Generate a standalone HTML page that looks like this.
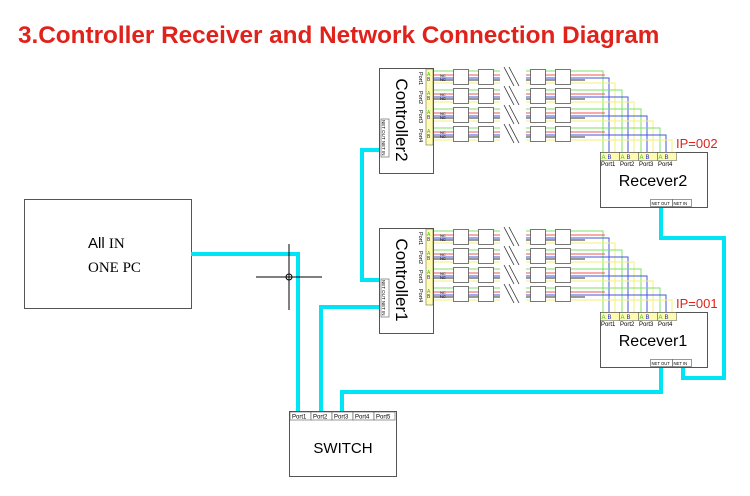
<!DOCTYPE html>
<html><head><meta charset="utf-8"><style>
html,body{margin:0;padding:0;background:#fff;}
svg{display:block;font-family:"Liberation Sans",sans-serif;}
</style></head><body>
<svg id="s" width="750" height="496" viewBox="0 0 750 496" xmlns="http://www.w3.org/2000/svg">
<text x="18" y="43" font-size="24.3" font-weight="bold" fill="#e0221b">3.Controller Receiver and Network Connection Diagram</text>
<rect x="24.5" y="199.5" width="167" height="109" fill="#fff" stroke="#555"/>
<text x="88" y="248" font-size="15" font-family="Liberation Sans">All <tspan font-family="Liberation Serif">IN</tspan></text>
<text x="88" y="272" font-size="15" font-family="Liberation Serif">ONE PC</text>
<g stroke="#00e5f5" stroke-width="4" fill="none">
<polyline points="191,254 298,254 298,412"/>
<polyline points="321,412 321,307 383,307"/>
<polyline points="342,412 342,392 661,392 661,365"/>
<polyline points="683,365 683,378 724,378 724,238 661,238 661,207"/>
<polyline points="383,150 362,150 362,280 383,280"/>
</g>
<g stroke="#000" stroke-width="1"><line x1="256" y1="277" x2="322" y2="277"/><line x1="289" y1="244" x2="289" y2="310"/></g>
<circle cx="289" cy="277" r="3" fill="none" stroke="#000"/>
<g id="dyn"></g>
<rect x="289.5" y="411.5" width="107" height="65" fill="#fff" stroke="#555"/>
<g font-size="6" fill="#000">
<rect x="290" y="412" width="21" height="8" fill="#fff" stroke="#555" stroke-width=".6"/><text x="292" y="418.5">Port1</text>
<rect x="311" y="412" width="21" height="8" fill="#fff" stroke="#555" stroke-width=".6"/><text x="313" y="418.5">Port2</text>
<rect x="332" y="412" width="21" height="8" fill="#fff" stroke="#555" stroke-width=".6"/><text x="334" y="418.5">Port3</text>
<rect x="353" y="412" width="21" height="8" fill="#fff" stroke="#555" stroke-width=".6"/><text x="355" y="418.5">Port4</text>
<rect x="374" y="412" width="21" height="8" fill="#fff" stroke="#555" stroke-width=".6"/><text x="376" y="418.5">Port5</text>
</g>
<text x="343" y="453" font-size="15" text-anchor="middle">SWITCH</text>
</svg>
<script>
var g=document.getElementById('dyn'),h='';
function L(x1,y1,x2,y2,c,w){h+='<line x1="'+x1+'" y1="'+y1+'" x2="'+x2+'" y2="'+y2+'" stroke="'+c+'" stroke-width="'+(w||1)+'"/>';}
function P(pts,c){h+='<polyline points="'+pts+'" fill="none" stroke="'+c+'" stroke-width="1"/>';}
function T(x,y,t,s,extra){h+='<text x="'+x+'" y="'+y+'" font-size="'+s+'" '+(extra||'')+'>'+t+'</text>';}
function unit(cy,ry,name,ip){
 h+='<rect x="379.5" y="'+(cy+0.5)+'" width="54" height="105" fill="#fff" stroke="#555"/>';
 h+='<text transform="translate(396,'+(cy+52)+') rotate(90)" font-size="17" text-anchor="middle">'+name+'</text>';
 h+='<rect x="381" y="'+(cy+51)+'" width="8" height="38" fill="#fff" stroke="#555" stroke-width=".6"/>';
 h+='<text transform="translate(382,'+(cy+52)+') rotate(90)" font-size="4.5">NET OUT NET IN</text>';
 h+='<rect x="426" y="'+(cy+1)+'" width="7" height="76" fill="#fffbb0" stroke="#555" stroke-width=".5"/>';
 for(var i=0;i<4;i++){
  var y=cy+3+i*19;
  h+='<text transform="translate(419,'+(y+1)+') rotate(90)" font-size="5.5">Port'+(i+1)+'</text>';
  T(427,y+5,'A',5,'fill="#2c2"');T(427,y+10,'B',5,'fill="#22c"');
  var px=603+i*19;
  var ex=[px,px+6,px+12];
  var ys=[y,y+4,y+7,y+9,y+12],cs=['#7ddf6a','#e55','#4455dd','#333','#f3ef7a'];
  for(var k=0;k<5;k++){L(434,ys[k],500,ys[k],cs[k]);}
  var gx=ex[0], bx=ex[1], yx=ex[2];
  P('526,'+ys[0]+' '+(gx)+','+ys[0]+' '+gx+','+(ry),cs[0]);
  L(526,ys[1],605,ys[1],cs[1]);L(526,ys[3],585,ys[3],cs[3]);
  P('526,'+ys[2]+' '+bx+','+ys[2]+' '+bx+','+ry,cs[2]);
  P('526,'+ys[4]+' '+yx+','+ys[4]+' '+yx+','+ry,cs[4]);
  T(440,y+6,'NC',4);T(440,y+10,'NC',4);
  var mods=[453,478,530,555];
  for(var m=0;m<4;m++)h+='<rect x="'+(mods[m]+.5)+'" y="'+(y-1.5)+'" width="15" height="15" fill="#fff" stroke="#555" stroke-width=".8"/>';
  L(504,y-4,514,y+15,'#333',.8);L(509,y-4,519,y+15,'#333',.8);
 }
 h+='<rect x="600.5" y="'+(ry+0.5)+'" width="107" height="'+55+'" fill="#fff" stroke="#555"/>';
 for(var i=0;i<4;i++){
  var px=600+i*19;
  h+='<rect x="'+(px+.5)+'" y="'+(ry+.5)+'" width="19" height="8" fill="#fffbb0" stroke="#555" stroke-width=".5"/>';
  T(px+1.5,ry+7,'A',6,'fill="#2c2"');T(px+7.5,ry+7,'B',6,'fill="#22c"');
  T(px+1,ry+14,'Port'+(i+1),6);
 }
 h+='<text x="653" y="'+(ry+34)+'" font-size="16" text-anchor="middle">'+name.replace('Controller','Recever')+'</text>';
 h+='<rect x="650.5" y="'+(ry+47.5)+'" width="22" height="7" fill="#fff" stroke="#555" stroke-width=".6"/>';
 h+='<rect x="672.5" y="'+(ry+47.5)+'" width="19" height="7" fill="#fff" stroke="#555" stroke-width=".6"/>';
 T(651.5,ry+53,'NET OUT',4.2);T(673.5,ry+53,'NET IN',4.2);
 T(676,ry-4,'IP='+ip,13,'fill="#e0221b"');
}
unit(68,152,'Controller2','002');
unit(228,312,'Controller1','001');
g.innerHTML=h;
</script>
</body></html>
